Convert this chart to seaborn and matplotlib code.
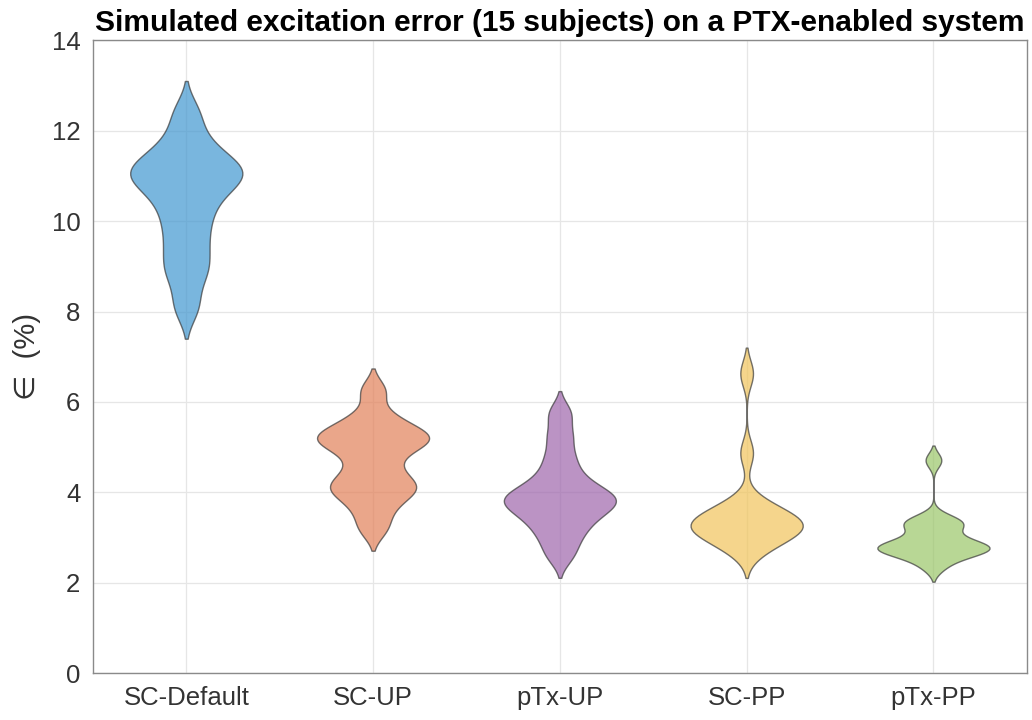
import pandas as pd
import numpy as np
import matplotlib
matplotlib.use("Agg")
import matplotlib.pyplot as plt
import seaborn as sns

# =====================================
# DATA (excitation error per subject, %)
# =====================================

methods = ["SC-Default", "SC-UP", "pTx-UP", "SC-PP", "pTx-PP"]

sc_default = [8.1, 8.75, 9.1, 9.5, 9.9, 10.25, 10.55, 10.8, 10.95, 11.05, 11.15, 11.3, 11.5, 11.85, 12.4]
sc_up = [3.2, 3.6, 3.9, 4.05, 4.15, 4.3, 4.55, 4.85, 5.05, 5.15, 5.22, 5.3, 5.45, 5.7, 6.25]
ptx_up = [2.6, 2.95, 3.2, 3.4, 3.55, 3.68, 3.78, 3.85, 3.93, 4.03, 4.2, 4.45, 4.8, 5.25, 5.75]
sc_pp = [2.68, 2.85, 3.0, 3.08, 3.15, 3.2, 3.25, 3.3, 3.38, 3.45, 3.52, 3.62, 3.8, 4.87, 6.63]
ptx_pp = [2.35, 2.55, 2.65, 2.7, 2.74, 2.77, 2.8, 2.83, 2.9, 3.0, 3.2, 3.3, 3.35, 3.42, 4.71]

colors = ["#4197D0", "#E28058", "#9E65AC", "#F1C45B", "#9AC668"]

yticks = [0, 2, 4, 6, 8, 10, 12, 14]

# =====================================
# LONG FORMAT TABLE
# =====================================

values = [sc_default, sc_up, ptx_up, sc_pp, ptx_pp]

errors = pd.DataFrame({
    "method": np.repeat(methods, [len(v) for v in values]),
    "error": np.concatenate(values)
})

# =====================================
# VIOLIN PLOT
# =====================================

sns.set_theme(style="whitegrid")
plt.rcParams["font.family"] = ["Liberation Sans", "DejaVu Sans"]

fig = plt.figure(figsize=(10.32, 7.2), dpi=100)
ax = fig.add_axes([0.090, 0.065, 0.905, 0.879])

sns.violinplot(
    data=errors,
    x="method",
    y="error",
    hue="method",
    order=methods,
    hue_order=methods,
    palette=colors,
    saturation=1,
    legend=False,
    inner=None,
    density_norm="width",
    width=0.6,
    bw_adjust=0.5,
    cut=2,
    linewidth=1.0,
    linecolor="#3a3a3a",
    alpha=0.7,
    ax=ax
)

ax.set_ylim(0, 14)
ax.set_yticks(yticks)
ax.set_xlim(-0.5, 4.5)

ax.set_title(
    "Simulated excitation error (15 subjects) on a PTX-enabled system",
    fontsize=21.5,
    fontweight="bold",
    color="black",
    pad=7
)

ax.set_xlabel("")
ax.set_ylabel("∈  (%)", fontsize=21, color="#333333", labelpad=8)

ax.tick_params(axis="both", labelsize=18.5, colors="#333333", length=0)
ax.tick_params(axis="x", pad=9)
ax.tick_params(axis="y", pad=9)

ax.grid(True, color="#e6e6e6", linewidth=0.9)
ax.set_axisbelow(True)

for spine in ax.spines.values():
    spine.set_color("#8a8a8a")
    spine.set_linewidth(1.0)

plt.savefig("out.png", dpi=100)
plt.close()
